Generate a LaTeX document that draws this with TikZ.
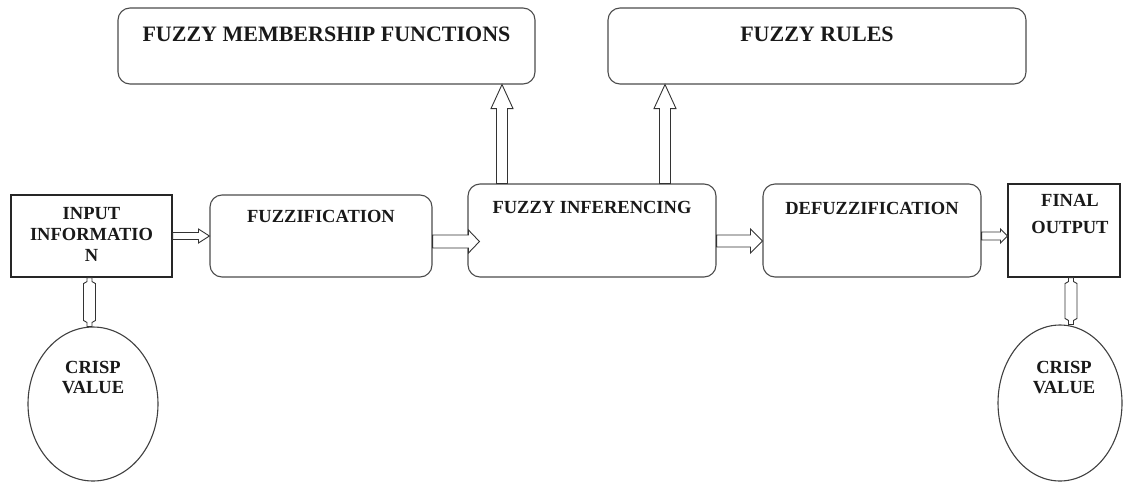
\documentclass[tikz,border=0pt]{standalone}
\usepackage{fontspec}
\setmainfont{Liberation Serif}
\usetikzlibrary{calc,shapes.geometric}
\newcommand\blkarrow[5]{%
  \coordinate (ba-h) at ($(#2)!#5!(#1)$);
  \draw[blkarr] ($(#1)!#3!90:(#2)$) -- ($(ba-h)!#3!90:(#2)$) -- ($(ba-h)!#4!90:(#2)$)
    -- (#2) -- ($(ba-h)!#4!-90:(#2)$) -- ($(ba-h)!#3!-90:(#2)$) -- ($(#1)!#3!-90:(#2)$) -- cycle;}
\newcommand\neckconn[2]{%
  \draw[blkarr] ($(#1)+(-2.5,0)$) -- ($(#1)+(-2.5,4)$) -- ($(#1)+(-6,6)$) -- ($(#2)+(-6,-6)$)
    -- ($(#2)+(-2.5,-4)$) -- ($(#2)+(-2.5,0)$) -- ($(#2)+(2.5,0)$) -- ($(#2)+(2.5,-4)$)
    -- ($(#2)+(6,-6)$) -- ($(#1)+(6,6)$) -- ($(#1)+(2.5,4)$) -- ($(#1)+(2.5,0)$) -- cycle;}
\tikzset{
  rbox/.style={draw=black!70, line width=1.1pt, rounded corners=12pt, fill=white},
  sbox/.style={draw=black!85, line width=1.1pt, fill=white},
  ebox/.style={ellipse, draw=black!75, line width=1.1pt, fill=white, inner sep=0pt},
  blkarr/.style={draw=black!80, line width=0.9pt, fill=white, line join=miter},
  bigtxt/.style={anchor=north, inner sep=0pt, font=\fontsize{22}{26}\selectfont\bfseries, text=black!90},
  smalltxt/.style={anchor=north, inner sep=0pt, align=center, font=\fontsize{18.5}{21}\selectfont\bfseries, text=black!90},
}
\begin{document}
\begin{tikzpicture}[x=1pt,y=-1pt]
\useasboundingbox (0,0) rectangle (1123,482);
% boxes
\node[rbox, minimum width=417pt, minimum height=76pt] (fmf) at (326.5,46) {};
\node[rbox, minimum width=418pt, minimum height=76pt] (fr) at (817,46) {};
\node[sbox, minimum width=161pt, minimum height=82pt] (inp) at (91.5,236) {};
\node[rbox, minimum width=222pt, minimum height=82pt] (fuz) at (321,236) {};
\node[rbox, minimum width=248pt, minimum height=93pt] (inf) at (592,230.5) {};
\node[rbox, minimum width=218pt, minimum height=93pt] (def) at (872,230.5) {};
\node[sbox, minimum width=112pt, minimum height=93pt] (out) at (1064,230.5) {};
\node[ebox, minimum width=130pt, minimum height=154pt] (cv1) at (93,404) {};
\node[ebox, minimum width=124pt, minimum height=156pt] (cv2) at (1060,403) {};
% texts
\node[bigtxt] (fmf-t) at ($(fmf.north)+(0,19)$) {FUZZY MEMBERSHIP FUNCTIONS};
\node[bigtxt] (fr-t) at ($(fr.north)+(0,19)$) {FUZZY RULES};
\node[smalltxt] (fuz-t) at ($(fuz.north)+(0,16)$) {FUZZIFICATION};
\node[smalltxt] (inf-t) at ($(inf.north)+(0,18)$) {FUZZY INFERENCING};
\node[smalltxt] (def-t) at ($(def.north)+(0,19)$) {DEFUZZIFICATION};
\node[smalltxt] (inp-t) at ($(inp.north)+(0,13)$) {INPUT\\INFORMATIO\\N};
\node[smalltxt, font=\fontsize{18.5}{27}\selectfont\bfseries] (out-t) at ($(out.north)+(6,11)$) {FINAL\\OUTPUT};
\node[smalltxt, font=\fontsize{18.5}{20}\selectfont\bfseries] (cv1-t) at ($(cv1.north)+(0,35)$) {CRISP\\VALUE};
\node[smalltxt, font=\fontsize{18.5}{20}\selectfont\bfseries] (cv2-t) at ($(cv2.north)+(4,37)$) {CRISP\\VALUE};
% horizontal arrows
\blkarrow{inp.east}{fuz.west}{3.5pt}{7pt}{11pt}
\coordinate (a2s) at ($(fuz.east)+(0,5.5)$);
\coordinate (a2e) at ($(inf.west)+(12,11)$);
\blkarrow{a2s}{a2e}{6.5pt}{11.5pt}{11pt}
\coordinate (a3s) at ($(inf.east)+(0,10.5)$);
\coordinate (a3e) at ($(def.west)+(0,10.5)$);
\blkarrow{a3s}{a3e}{6pt}{12pt}{12pt}
\coordinate (a4s) at ($(def.east)+(0,5.5)$);
\coordinate (a4e) at ($(out.west)+(0,5.5)$);
\blkarrow{a4s}{a4e}{4pt}{7pt}{7pt}
% up arrows
\coordinate (u1s) at ($(inf.north)+(-90,0)$);
\coordinate (u1e) at (u1s |- fmf.south);
\blkarrow{u1s}{u1e}{5.5pt}{11pt}{24pt}
\coordinate (u2s) at ($(inf.north)+(73,0)$);
\coordinate (u2e) at (u2s |- fr.south);
\blkarrow{u2s}{u2e}{5.5pt}{11pt}{24pt}
% connectors to crisp values
\coordinate (c1a) at ($(inp.south)+(-2,0)$);
\coordinate (c1b) at (c1a |- cv1.north);
\neckconn{c1a}{c1b}
\coordinate (c2a) at ($(out.south)+(7,0)$);
\coordinate (c2b) at (c2a |- cv2.north);
\neckconn{c2a}{c2b}
\end{tikzpicture}
\end{document}
